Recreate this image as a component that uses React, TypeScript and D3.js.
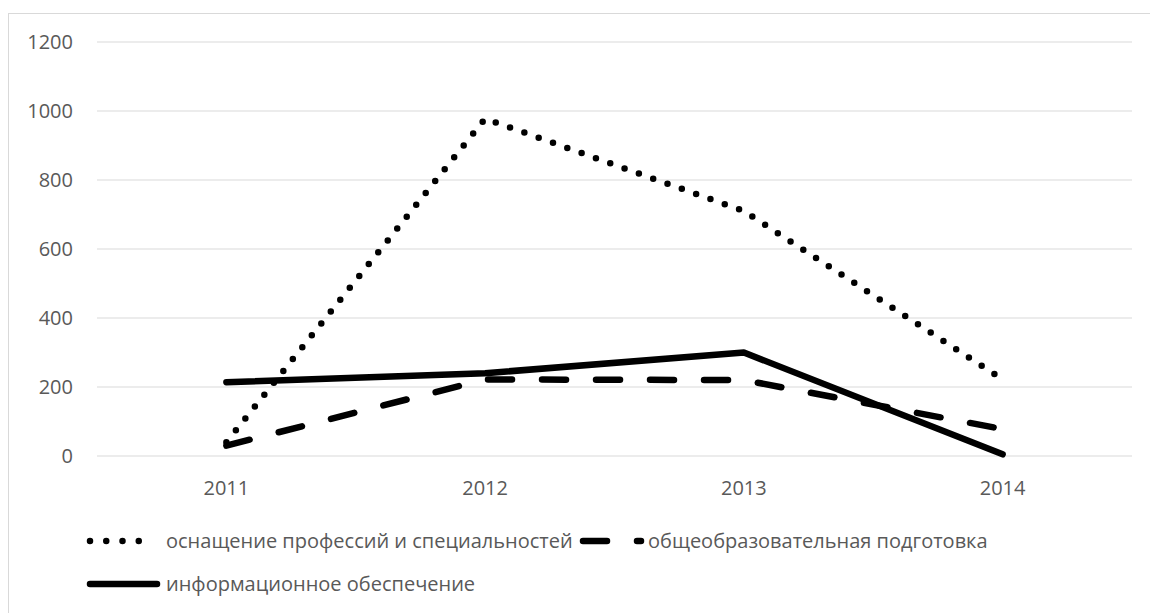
import React from 'react';
import * as d3 from 'd3';

// chart data
const years = ['2011', '2012', '2013', '2014'];
const equipment = [40, 978, 710, 222];     // оснащение профессий и специальностей
const general = [30, 222, 220, 78];        // общеобразовательная подготовка
const information = [214, 240, 300, 5];    // информационное обеспечение
const yTicks = [0, 200, 400, 600, 800, 1000, 1200];

const series = [
  { name: 'оснащение профессий и специальностей', values: equipment, dash: '0,15.2', legendDash: '0,16.25' },
  { name: 'общеобразовательная подготовка', values: general, dash: '24,30', legendDash: '24,30' },
  { name: 'информационное обеспечение', values: information, dash: null, legendDash: null },
];

const width = 1150;
const height = 613;
const font = '"Open Sans", sans-serif';
const fontSize = 20;
const textColor = '#595959';
const gridColor = '#d9d9d9';

const App: React.FC = () => {
  const x = d3.scalePoint<string>().domain(years).range([97, 1132]).padding(0.5);
  const y = d3.scaleLinear().domain([0, 1200]).range([456, 42]);

  const line = d3.line<number>()
    .x((_, i) => x(years[i]) as number)
    .y(d => y(d));

  // legend entries: symbol span and text start
  const legendPos = [
    { x0: 90, x1: 155, tx: 166, y: 541 },
    { x0: 583, x1: 641, tx: 648, y: 541 },
    { x0: 90, x1: 157, tx: 166, y: 584 },
  ];

  return (
    <svg width={width} height={height} style={{ position: 'absolute', left: 0, top: 0 }}
      fontFamily={font}>
      <rect x={0} y={0} width={width} height={height} fill="#fff" />
      <rect x={8.5} y={13.5} width={width + 10} height={height + 10} fill="none" stroke={gridColor} strokeWidth={1} />

      {/* gridlines */}
      {yTicks.map(t => (
        <g key={t}>
          <line x1={97} x2={1132} y1={y(t)} y2={y(t)} stroke={gridColor} strokeWidth={1.2} />
          <text x={73} y={y(t)} dy="0.35em" textAnchor="end" fontSize={fontSize} fill={textColor}>{t}</text>
        </g>
      ))}

      {/* x labels */}
      {years.map(yr => (
        <text key={yr} x={x(yr)} y={488} dy="0.35em" textAnchor="middle" fontSize={fontSize} fill={textColor}>{yr}</text>
      ))}

      {/* series lines */}
      {series.map(s => (
        <path key={s.name} d={line(s.values) || ''} fill="none" stroke="#000"
          strokeWidth={6.5} strokeLinecap="round" strokeLinejoin="round"
          strokeDasharray={s.dash || undefined} />
      ))}

      {/* legend */}
      {series.map((s, i) => {
        const p = legendPos[i];
        return (
          <g key={s.name} transform={`translate(0,${p.y})`}>
            <line x1={p.x0} x2={p.x1} y1={0} y2={0} stroke="#000" strokeWidth={6.5}
              strokeLinecap="round" strokeDasharray={s.legendDash || undefined} />
            <text x={p.tx} y={0} dy="0.35em" fontSize={fontSize} fill={textColor}>{s.name}</text>
          </g>
        );
      })}
    </svg>
  );
};

export default App;
